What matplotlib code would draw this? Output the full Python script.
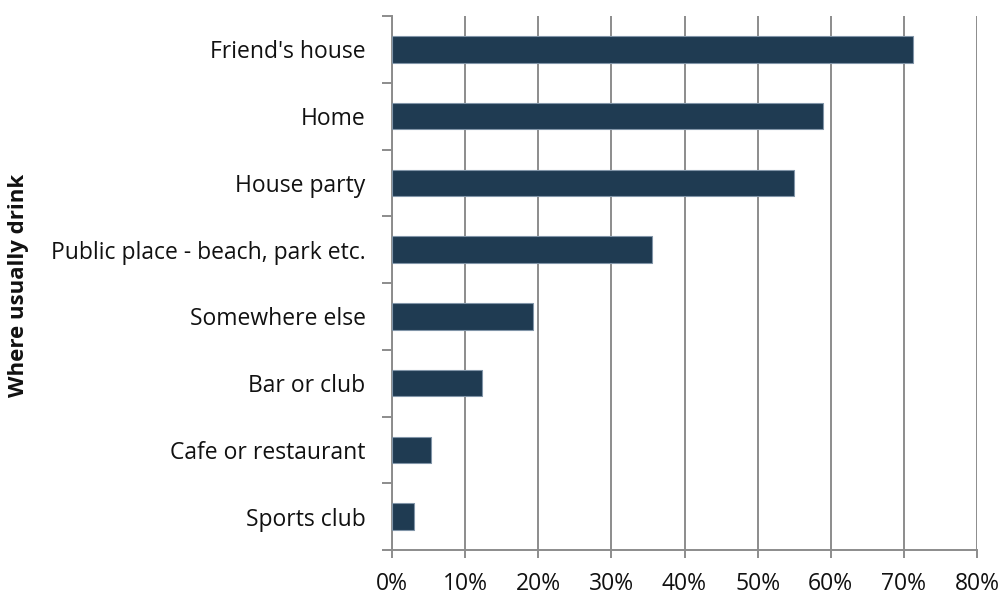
import matplotlib
matplotlib.use('Agg')
import matplotlib.pyplot as plt
from matplotlib.ticker import FixedLocator, PercentFormatter

places = ["Friend's house", "Home", "House party", "Public place - beach, park etc.",
          "Somewhere else", "Bar or club", "Cafe or restaurant", "Sports club"]
share = [71.3, 58.9, 55.0, 35.6, 19.3, 12.3, 5.4, 3.0]

BAR = '#1F3B52'
EDGE = '#8195A8'
AXIS = '#8C8C8C'

plt.rcParams['font.family'] = ['Open Sans', 'DejaVu Sans']

fig = plt.figure(figsize=(10.02, 5.95), dpi=100)
ax = fig.add_axes([392/1002, 1 - 550/595, (977 - 392)/1002, (550 - 16)/595])

pos = list(range(len(places)))
ax.barh(pos, share, height=0.4, color=BAR, edgecolor=EDGE, linewidth=0.8, zorder=3)

ax.set_xlim(0, 80)
ax.set_ylim(len(places) - 0.5, -0.5)
ax.set_xticks(range(0, 81, 10))
ax.xaxis.set_major_formatter(PercentFormatter(decimals=0))
ax.set_yticks(pos)
ax.set_yticklabels(places)
# category boundary ticks on the y axis
ax.yaxis.set_minor_locator(FixedLocator([p - 0.5 for p in range(len(places) + 1)]))

ax.grid(axis='x', color=AXIS, linewidth=1.4, zorder=0)
for s in ['top', 'right']:
    ax.spines[s].set_visible(False)
for s in ['left', 'bottom']:
    ax.spines[s].set_color(AXIS)
    ax.spines[s].set_linewidth(1.4)

ax.tick_params(axis='y', which='major', length=0, pad=19, labelsize=16.5, labelcolor='#111111')
ax.tick_params(axis='y', which='minor', length=7, width=1.4, color=AXIS)
ax.tick_params(axis='x', which='major', length=6, width=1.4, color=AXIS, pad=10,
               labelsize=16.5, labelcolor='#111111')

fig.text(19/1002, 1 - 285/595, 'Where usually drink', rotation=90, ha='center', va='center',
         fontsize=16, fontweight='bold', color='#111111')

fig.savefig('out.png', dpi=100)
